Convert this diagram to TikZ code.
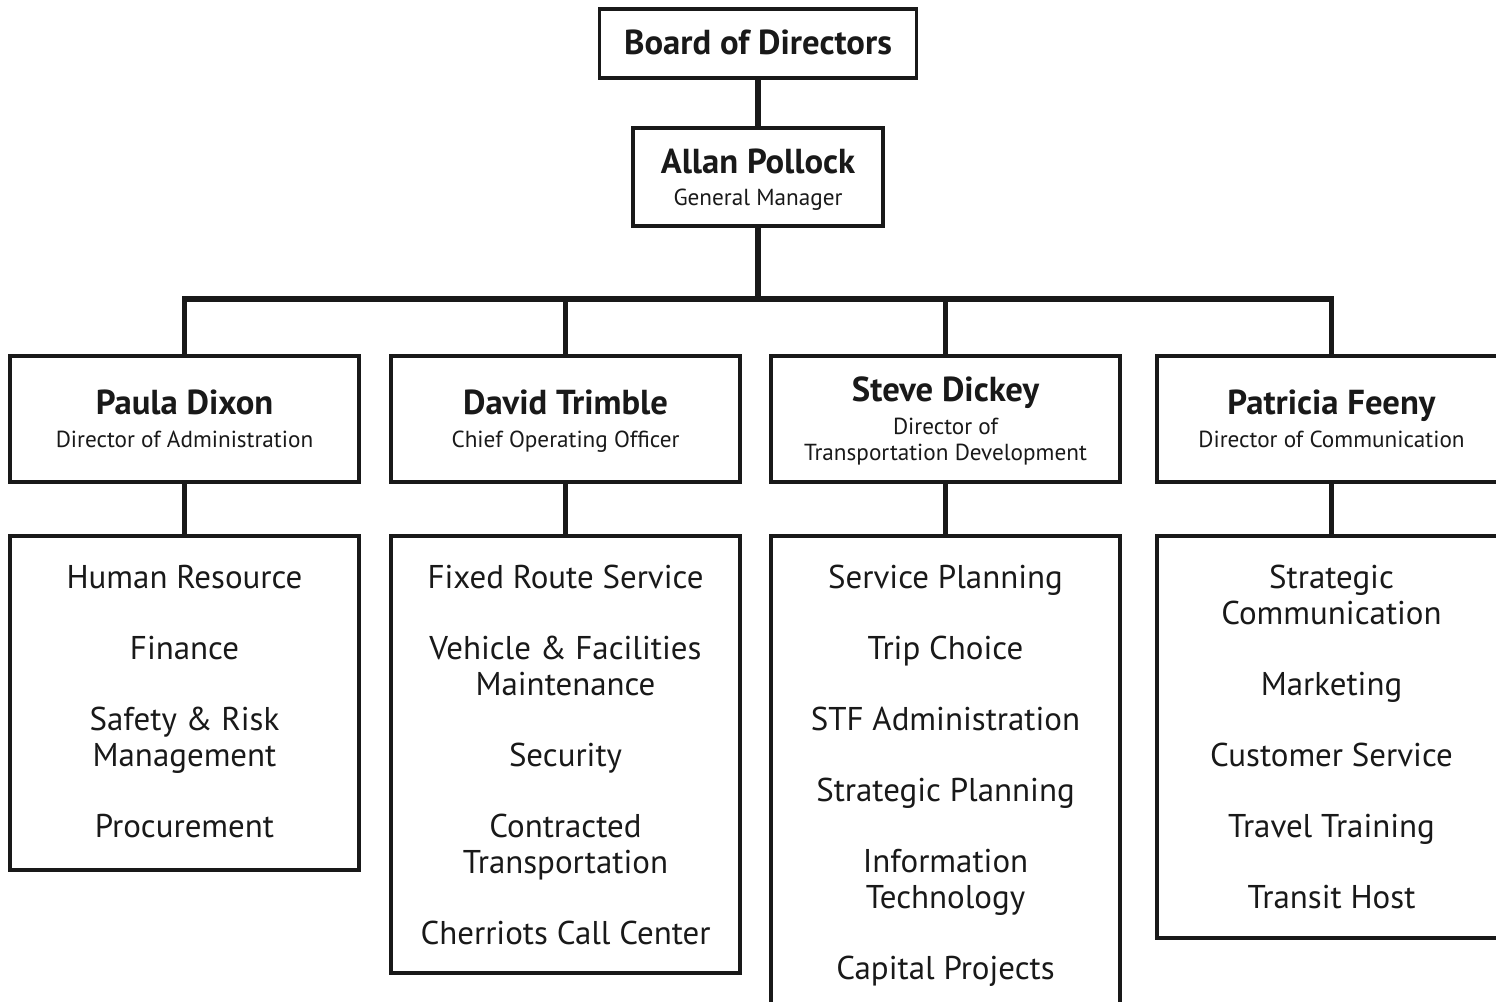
\documentclass[tikz,border=0pt]{standalone}
\usepackage{fontspec}
\setmainfont{PT Sans}
\newcommand{\itemstrut}{\rule[-4.8pt]{0pt}{26.9pt}}
\newcommand{\namestrut}{\rule[-7pt]{0pt}{32.2pt}}
\begin{document}
\begin{tikzpicture}[x=0.75pt,y=-0.75pt,
  every node/.style={inner sep=0pt, outer sep=0pt},
  box/.style={draw=black!90, line width=2.6pt, rectangle, fill=white},
  conn/.style={draw=black!90, line width=4pt},
  nametxt/.style={font=\fontsize{26pt}{28pt}\selectfont\bfseries, text=black!90,
    execute at begin node=\namestrut},
  roletxt/.style={font=\fontsize{17.4pt}{19.5pt}\selectfont, text=black!90, align=center},
  itemtxt/.style={font=\fontsize{24.7pt}{27pt}\selectfont, text=black!90, align=center,
    execute at begin node=\itemstrut, execute at end node=\itemstrut},
]
\useasboundingbox (0,0) rectangle (1496,1002);
\clip (0,0) rectangle (1496,1002);
\fill[white] (0,0) rectangle (1496,1002);

% top boxes
\node[box, minimum width=317*0.75pt, minimum height=69*0.75pt] (board) at (758,43.5) {};
\node[nametxt] (boardt) at (758,42) {Board of Directors};
\node[box, minimum width=250*0.75pt, minimum height=98*0.75pt] (allan) at (758,177) {};
\node[nametxt] (allant) at (758,161) {Allan Pollock};
\node[roletxt] (allanr) at (758,200) {General Manager};

% director boxes
\node[box, minimum width=349*0.75pt, minimum height=126*0.75pt] (paula) at (184.5,419) {};
\node[box, minimum width=349*0.75pt, minimum height=126*0.75pt] (david) at (565.5,419) {};
\node[box, minimum width=349*0.75pt, minimum height=126*0.75pt] (steve) at (945.5,419) {};
\node[box, minimum width=349*0.75pt, minimum height=126*0.75pt] (patricia) at (1331.5,419) {};

\node[nametxt] (paulat) at (184.5,402) {Paula Dixon};
\node[roletxt] (paular) at (184.5,439) {Director of Administration};
\node[nametxt] (davidt) at (565.5,402) {David Trimble};
\node[roletxt] (davidr) at (565.5,442) {Chief Operating Officer};
\node[nametxt] (stevet) at (945.5,389) {Steve Dickey};
\node[roletxt] (stever) at (945.5,442) {Director of\\Transportation Development};
\node[nametxt] (patriciat) at (1331.5,402) {Patricia Feeny};
\node[roletxt] (patriciar) at (1331.5,439) {Director of Communication};

% list boxes
\node[box, minimum width=349*0.75pt, minimum height=334*0.75pt] (paulal) at (184.5,703) {};
\node[box, minimum width=349*0.75pt, minimum height=437*0.75pt] (davidl) at (565.5,754.5) {};
\node[box, minimum width=349*0.75pt, minimum height=490*0.75pt] (stevel) at (945.5,781) {};
\node[box, minimum width=349*0.75pt, minimum height=402*0.75pt] (patricial) at (1331.5,737) {};

% connectors
\coordinate (barY) at (0,299);
\draw[conn] (board.south) -- (allan.north);
\draw[conn] (allan.south) -- (allan.south|-barY);
\draw[conn] (paula.north) -- (paula.north|-barY) -- (patricia.north|-barY) -- (patricia.north);
\draw[conn] (david.north) -- (david.north|-barY);
\draw[conn] (steve.north) -- (steve.north|-barY);
\draw[conn] (paula.south) -- (paulal.north);
\draw[conn] (david.south) -- (davidl.north);
\draw[conn] (steve.south) -- (stevel.north);
\draw[conn] (patricia.south) -- (patricial.north);

% items: Paula
\node[itemtxt] (p1) at (184.5,577) {Human Resource};
\node[itemtxt] (p2) at (184.5,648) {Finance};
\node[itemtxt] (p3) at (184.5,740) {Safety \& Risk\\Management};
\node[itemtxt] (p4) at (184.5,826) {Procurement};
% David
\node[itemtxt] (d1) at (565.5,577) {Fixed Route Service};
\node[itemtxt] (d2) at (565.5,669) {Vehicle \& Facilities\\Maintenance};
\node[itemtxt] (d3) at (565.5,755) {Security};
\node[itemtxt] (d4) at (565.5,847) {Contracted\\Transportation};
\node[itemtxt] (d5) at (565.5,933) {Cherriots Call Center};
% Steve
\node[itemtxt] (s1) at (945.5,577) {Service Planning};
\node[itemtxt] (s2) at (945.5,648) {Trip Choice};
\node[itemtxt] (s3) at (945.5,719) {STF Administration};
\node[itemtxt] (s4) at (945.5,790) {Strategic Planning};
\node[itemtxt] (s5) at (945.5,882.5) {Information\\Technology};
\node[itemtxt] (s6) at (945.5,968) {Capital Projects};
% Patricia
\node[itemtxt] (t1) at (1331.5,597.5) {Strategic\\Communication};
\node[itemtxt] (t2) at (1331.5,684) {Marketing};
\node[itemtxt] (t3) at (1331.5,755) {Customer Service};
\node[itemtxt] (t4) at (1331.5,826) {Travel Training};
\node[itemtxt] (t5) at (1331.5,897) {Transit Host};
\end{tikzpicture}
\end{document}
